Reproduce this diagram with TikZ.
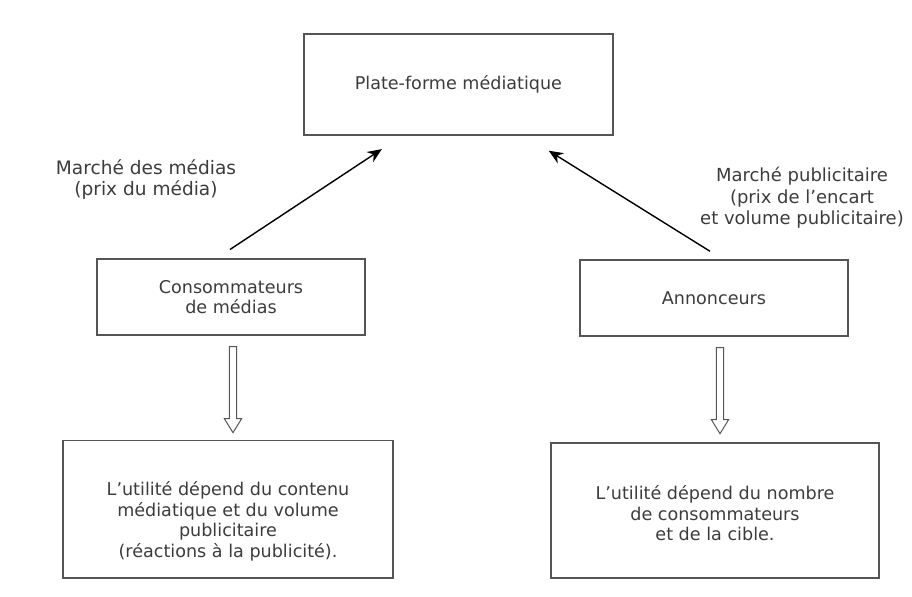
\documentclass[tikz,border=0pt]{standalone}
\usepackage{fontspec}
\setmainfont{DejaVu Sans}
\usetikzlibrary{arrows.meta,calc}
\definecolor{boxGray}{RGB}{85,85,85}
\definecolor{txtGray}{RGB}{60,60,60}
\tikzset{
	box/.style={draw=boxGray,line width=1pt,text=txtGray,align=center,inner sep=0pt,font=\fontsize{12.5}{14.6}\selectfont},
	lbl/.style={text=txtGray,align=center,inner sep=0pt,font=\fontsize{13.2}{15.2}\selectfont},
	market/.style={line width=1pt,-{Stealth[length=3.6mm,width=3mm]}},
	downarrow/.pic={\draw[draw=boxGray,line width=.7pt] (-.09,0) -- ++(.18,0) -- ++(0,-1.8) -- ++(.125,0) -- ++(-.215,-.35) -- ++(-.215,.35) -- ++(.125,0) -- cycle;},
}
\begin{document}
\begin{tikzpicture}
	\useasboundingbox (0,0) rectangle (22.8,14.925);
	\node [box,minimum width=7.73cm,minimum height=2.53cm] (plat) at(11.46,12.81){Plate-forme médiatique};
	\node [box,minimum width=6.7cm,minimum height=1.9cm] (cons) at($(plat)+(-5.685,-5.31)$){Consommateurs\\de médias};
	\node [box,minimum width=6.7cm,minimum height=1.9cm] (annon) at($(plat)+(6.39,-5.335)$){Annonceurs};
	\node [box,minimum width=8.25cm,minimum height=3.43cm] (util1) at($(cons)+(-.075,-5.31)$){\rule{0pt}{.95cm}L’utilité dépend du contenu\\médiatique et du volume\\publicitaire\\(réactions à la publicité).};
	\node [box,minimum width=8.2cm,minimum height=3.38cm] (util2) at($(annon)+(.025,-5.315)$){\rule{0pt}{.5cm}L’utilité dépend du nombre\\de consommateurs\\et de la cible.};
	% market arrows and their labels
	\draw [market] ($(cons.north)+(-.025,.22)$) -- ($(plat.south west)+(1.97,-.33)$);
	\draw [market] ($(annon.north)+(-.1,.2)$) -- ($(plat.south east)+(-1.625,-.37)$);
	\node [lbl] (lblMedia) at($(cons)+(-2.125,2.93)$){Marché des médias\\(prix du média)};
	\node [lbl,font=\fontsize{12.8}{15.2}\selectfont] (lblPub) at($(annon)+(2.2,2.5)$){Marché publicitaire\\(prix de l’encart\\et volume publicitaire)};
	% hollow arrows down to the utility boxes
	\pic at ($(cons.south)+(.05,-.275)$) {downarrow};
	\pic at ($(annon.south)+(.15,-.275)$) {downarrow};
\end{tikzpicture}
\end{document}
